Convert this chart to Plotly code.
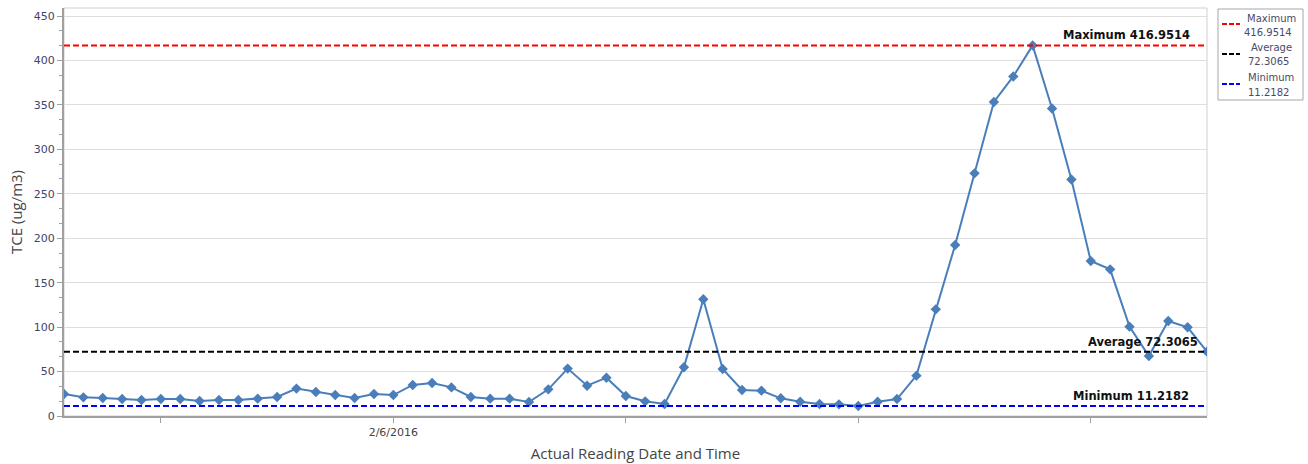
import plotly.graph_objects as go

# ---- data ----
reading_times = [
    "2016-02-04 14:00", "2016-02-04 16:00", "2016-02-04 18:00", "2016-02-04 20:00", "2016-02-04 22:00",
    "2016-02-05 00:00", "2016-02-05 02:00", "2016-02-05 04:00", "2016-02-05 06:00", "2016-02-05 08:00",
    "2016-02-05 10:00", "2016-02-05 12:00", "2016-02-05 14:00", "2016-02-05 16:00", "2016-02-05 18:00",
    "2016-02-05 20:00", "2016-02-05 22:00", "2016-02-06 00:00", "2016-02-06 02:00", "2016-02-06 04:00",
    "2016-02-06 06:00", "2016-02-06 08:00", "2016-02-06 10:00", "2016-02-06 12:00", "2016-02-06 14:00",
    "2016-02-06 16:00", "2016-02-06 18:00", "2016-02-06 20:00", "2016-02-06 22:00", "2016-02-07 00:00",
    "2016-02-07 02:00", "2016-02-07 04:00", "2016-02-07 06:00", "2016-02-07 08:00", "2016-02-07 10:00",
    "2016-02-07 12:00", "2016-02-07 14:00", "2016-02-07 16:00", "2016-02-07 18:00", "2016-02-07 20:00",
    "2016-02-07 22:00", "2016-02-08 00:00", "2016-02-08 02:00", "2016-02-08 04:00", "2016-02-08 06:00",
    "2016-02-08 08:00", "2016-02-08 10:00", "2016-02-08 12:00", "2016-02-08 14:00", "2016-02-08 16:00",
    "2016-02-08 18:00", "2016-02-08 20:00", "2016-02-08 22:00", "2016-02-09 00:00", "2016-02-09 02:00",
    "2016-02-09 04:00", "2016-02-09 06:00", "2016-02-09 08:00", "2016-02-09 10:00", "2016-02-09 12:00",
]

tce_values = [
    24.7, 21.0, 20.2, 19.1, 18.0, 19.1, 19.1, 16.9, 18.0, 18.0,
    19.5, 21.4, 30.8, 27.0, 23.6, 20.2, 24.7, 23.6, 34.9, 37.1,
    32.2, 21.4, 19.5, 19.5, 15.7, 30.0, 53.3, 34.1, 43.1, 22.5,
    16.5, 13.5, 54.8, 131.3, 52.9, 29.2, 28.5, 19.9, 16.1, 13.5,
    13.1, 11.2182, 16.1, 19.1, 45.4, 120.0, 192.4, 273.0, 353.3, 382.0,
    416.9514, 346.0, 266.0, 174.4, 165.0, 100.5, 67.5, 106.9, 99.8, 72.4,
]

ref_names = ["Maximum", "Average", "Minimum"]
ref_values = [416.9514, 72.3065, 11.2182]
ref_colors = ["#ff0000", "#000000", "#0000ff"]
ref_label_x = [0.9866, 0.9936, 0.9856]

x_tick_vals = ["2016-02-05", "2016-02-06", "2016-02-07", "2016-02-08", "2016-02-09"]
x_tick_text = ["", "2/6/2016", "", "", ""]

y_title = "TCE (ug/m3)"
x_title = "Actual Reading Date and Time"

# ---- layout geometry (pixels) ----
W, H = 1308, 464
ML, MR, MT, MB = 64, 101, 8, 48
PW, PH = W - ML - MR, H - MT - MB


def px_x(px):
    return (px - ML) / PW


def px_y(py):
    return (H - MB - py) / PH


fig = go.Figure()

fig.add_trace(go.Scatter(
    x=reading_times, y=tce_values, mode="lines+markers",
    line=dict(color="#4a7ebb", width=2),
    marker=dict(symbol="diamond", size=8, color="#4a7ebb"),
    showlegend=False, name="TCE",
))

# custom legend box
leg_left, leg_right, leg_top, leg_bottom = 1218, 1303, 9, 100
fig.add_shape(type="rect", xref="paper", yref="paper",
              x0=px_x(leg_left), x1=px_x(leg_right), y0=px_y(leg_bottom), y1=px_y(leg_top),
              line=dict(color="#a6a6a6", width=1), fillcolor="white")

entry_tops = [11, 41, 71]
for i, (name, val, col, lx) in enumerate(zip(ref_names, ref_values, ref_colors, ref_label_x)):
    fig.add_trace(go.Scatter(
        x=[reading_times[0], reading_times[-1]], y=[val, val], mode="lines",
        line=dict(color=col, width=2, dash="6px,3px"),
        name=f"{name} {val:.4f}", showlegend=False, hoverinfo="skip",
    ))
    fig.add_annotation(
        x=lx, xref="paper", xanchor="right",
        y=val, yref="y", yanchor="bottom", yshift=1,
        text=f"{name} {val:.4f}",
        showarrow=False,
        font=dict(family="DejaVu Sans", size=11.5, color="#111111", weight="bold"),
    )
    # legend entry
    top = entry_tops[i]
    sample_y = top + 13
    fig.add_shape(type="line", xref="paper", yref="paper",
                  x0=px_x(1222), x1=px_x(1240), y0=px_y(sample_y), y1=px_y(sample_y),
                  line=dict(color=col, width=2, dash="5px,2px"))
    fig.add_annotation(
        x=px_x(1271), xref="paper", xanchor="center",
        y=px_y(top + 7), yref="paper", yanchor="middle",
        text=name, showarrow=False,
        font=dict(family="DejaVu Sans", size=10, color="#4a4a6a"),
    )
    fig.add_annotation(
        x=px_x(1268), xref="paper", xanchor="center",
        y=px_y(top + 21), yref="paper", yanchor="middle",
        text=f"{val:.4f}", showarrow=False,
        font=dict(family="DejaVu Sans", size=10, color="#4a4a6a"),
    )

fig.add_shape(type="rect", xref="paper", yref="paper", x0=0, x1=1, y0=0, y1=1,
              line=dict(color="#d0d0d0", width=1), layer="below")

fig.update_layout(
    width=W, height=H,
    margin=dict(l=ML, r=MR, t=MT, b=MB, autoexpand=False),
    paper_bgcolor="white", plot_bgcolor="white",
    font=dict(family="DejaVu Sans", size=11, color="#4d4d4d"),
    showlegend=False,
    xaxis=dict(
        title=dict(text=x_title, font=dict(family="Open Sans", size=15, color="#444444"), standoff=10),
        type="date",
        range=[reading_times[0], reading_times[-1]],
        tickvals=x_tick_vals, ticktext=x_tick_text,
        ticks="outside", ticklen=5, tickcolor="#a0a0a0",
        showgrid=False, zeroline=False,
        showline=True, linecolor="#a0a0a0", linewidth=2,
        tickfont=dict(family="DejaVu Sans", size=11, color="#444444"),
    ),
    yaxis=dict(
        title=dict(text=y_title, font=dict(family="Open Sans", size=15, color="#444444"), standoff=8),
        range=[0, 459], tick0=0, dtick=50,
        ticks="outside", ticklen=5, tickcolor="#a0a0a0",
        minor=dict(tick0=0, dtick=50 / 3, ticks="outside", ticklen=3, tickcolor="#a0a0a0", showgrid=False),
        showgrid=True, gridcolor="#dedede", gridwidth=1, zeroline=False,
        showline=True, linecolor="#a0a0a0", linewidth=2,
        tickfont=dict(family="DejaVu Sans", size=11, color="#444466"),
    ),
)

fig.write_html("out.html", config={"displayModeBar": False},
               post_script="document.body.style.margin='0';")
